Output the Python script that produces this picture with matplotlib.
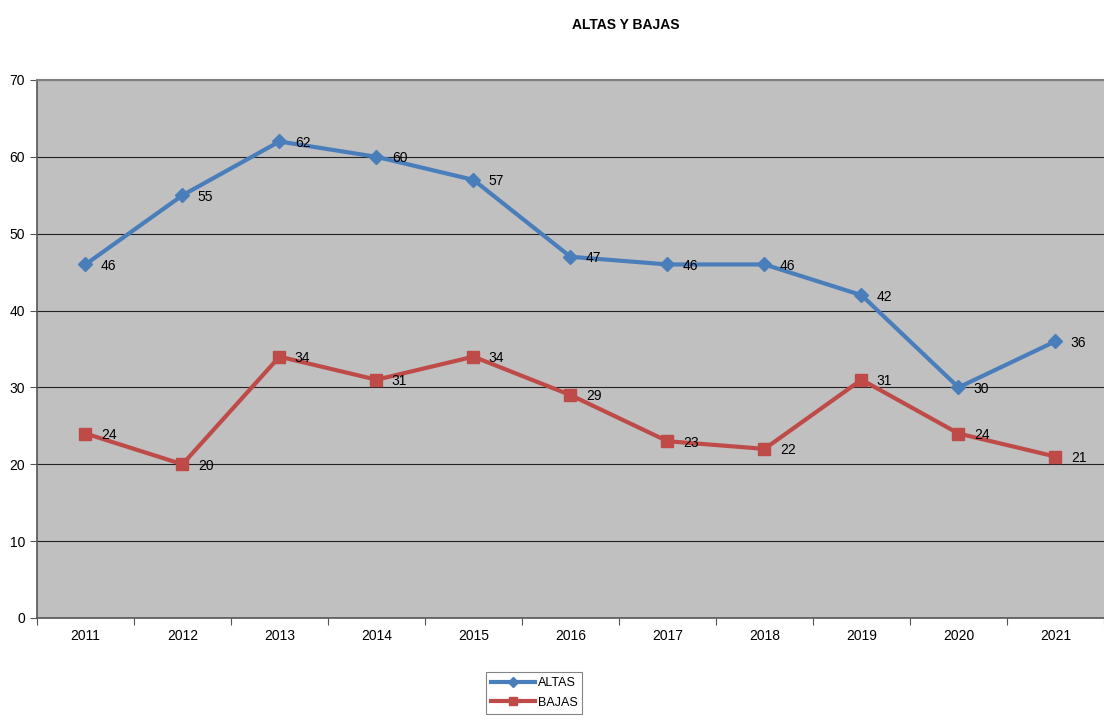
import matplotlib
matplotlib.use("Agg")
import matplotlib.pyplot as plt
from matplotlib.ticker import FixedLocator, NullFormatter

years = ["2011", "2012", "2013", "2014", "2015", "2016", "2017", "2018", "2019", "2020", "2021"]
altas = [46, 55, 62, 60, 57, 47, 46, 46, 42, 30, 36]
bajas = [24, 20, 34, 31, 34, 29, 23, 22, 31, 24, 21]

plt.rcParams['font.family'] = ['Liberation Sans', 'DejaVu Sans']

fig = plt.figure(figsize=(11.04, 7.2), dpi=100)
ax = fig.add_axes([0.0335, 0.1417, 0.9665, 0.7472])
ax.set_facecolor('#C0C0C0')

x = list(range(len(years)))
blue = '#4A7EBB'
red = '#BE4B48'
ax.plot(x, altas, color=blue, lw=3, marker='D', ms=7, label='ALTAS', zorder=3)
ax.plot(x, bajas, color=red, lw=3, marker='s', ms=9, label='BAJAS', zorder=3)

for xi, v in zip(x, altas):
    ax.annotate(str(v), (xi, v), xytext=(11, -1), textcoords='offset points',
                fontsize=10, va='center', ha='left', color='black', zorder=4)
for xi, v in zip(x, bajas):
    ax.annotate(str(v), (xi, v), xytext=(11, -1), textcoords='offset points',
                fontsize=10, va='center', ha='left', color='black', zorder=4)

ax.set_xlim(-0.5, len(years) - 0.5)
ax.set_ylim(0, 70)
ax.set_yticks(range(0, 71, 10))
ax.yaxis.grid(True, color='#222222', lw=0.8)
ax.set_axisbelow(True)

ax.xaxis.set_major_locator(FixedLocator([i - 0.5 for i in range(len(years) + 1)]))
ax.xaxis.set_major_formatter(NullFormatter())
ax.xaxis.set_minor_locator(FixedLocator(x))
ax.set_xticklabels(years, minor=True)
ax.tick_params(axis='x', which='minor', length=0, labelsize=10, pad=8)
ax.tick_params(axis='x', which='major', length=5, color='#555555')
ax.tick_params(axis='y', length=5, labelsize=10, color='#555555')

ax.spines['right'].set_visible(False)
ax.spines['top'].set_color('#808080')
ax.spines['top'].set_linewidth(1.5)
for s in ['left', 'bottom']:
    ax.spines[s].set_color('#555555')
    ax.spines[s].set_linewidth(1.2)

fig.text(0.5665, 0.965, 'ALTAS Y BAJAS', ha='center', va='center', fontsize=10, fontweight='bold')

leg = fig.legend(loc='center', bbox_to_anchor=(0.484, 0.0375), frameon=True, fancybox=False,
                 edgecolor='#666666', fontsize=9, handlelength=3.5, handletextpad=0.2,
                 borderpad=0.4, labelspacing=0.6, markerscale=0.7)
leg.get_frame().set_linewidth(0.8)

fig.savefig('out.png', dpi=100, facecolor='white')
